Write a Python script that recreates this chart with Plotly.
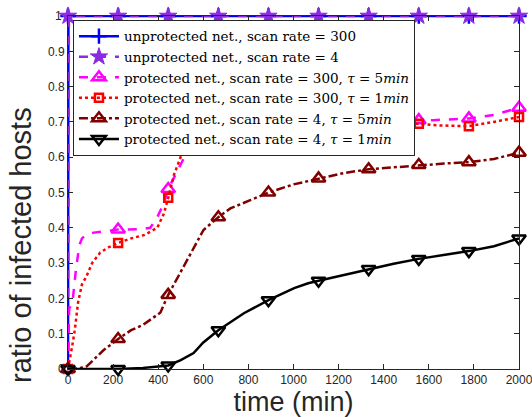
import plotly.graph_objects as go

# marker sample times (min)
t_marks = [0, 222.2, 444.4, 666.7, 888.9, 1111.1, 1333.3, 1555.6, 1777.8, 2000]

# unprotected, scan rate 300
t_u300 = [0, 2, 2000]
y_u300 = [0, 1, 1]
m_u300 = [1, 1, 1, 1, 1, 1, 1, 1, 1, 1]

# unprotected, scan rate 4
t_u4 = [0, 4, 2000]
y_u4 = [0, 1, 1]
m_u4 = [1, 1, 1, 1, 1, 1, 1, 1, 1, 1]

# protected, scan rate 300, tau = 5 min
t_p300_5 = [0, 5, 20, 35, 50, 62, 80, 98, 160, 222.2, 320, 365, 396, 425, 444.4, 485, 521, 557, 600,
            666.7, 778, 888.9, 1111.1, 1333.3, 1555.6, 1620, 1777.8, 1889, 2000]
y_p300_5 = [0, 0.17, 0.19, 0.28, 0.35, 0.37, 0.38, 0.385, 0.39, 0.395, 0.396, 0.40, 0.43, 0.47, 0.51, 0.56, 0.606,
            0.64, 0.66, 0.68, 0.695, 0.70, 0.703, 0.705, 0.705, 0.705, 0.71, 0.72, 0.74]
m_p300_5 = [0, 0.395, 0.51, 0.68, 0.70, 0.703, 0.705, 0.705, 0.71, 0.74]

# protected, scan rate 300, tau = 1 min
t_p300_1 = [0, 10, 20, 30, 45, 62, 80, 107, 143, 180, 222.2, 280, 340, 396, 425, 444.4, 470, 499, 530, 557,
            600, 666.7, 778, 888.9, 1111.1, 1333.3, 1555.6, 1650, 1777.8, 1889, 2000]
y_p300_1 = [0, 0.03, 0.07, 0.11, 0.19, 0.24, 0.26, 0.30, 0.33, 0.345, 0.357, 0.37, 0.38, 0.40, 0.44, 0.485, 0.55,
            0.60, 0.625, 0.64, 0.655, 0.67, 0.685, 0.69, 0.695, 0.695, 0.695, 0.69, 0.688, 0.70, 0.714]
m_p300_1 = [0, 0.357, 0.485, 0.67, 0.69, 0.695, 0.695, 0.695, 0.688, 0.714]

# protected, scan rate 4, tau = 5 min
t_p4_5 = [0, 50, 84, 111, 157, 222.2, 280, 333, 380, 410, 444.4, 512, 557, 601, 666.7, 720, 811, 888.9, 1000,
          1111.1, 1222, 1333.3, 1444, 1555.6, 1667, 1777.8, 1889, 2000]
y_p4_5 = [0, 0.002, 0.008, 0.025, 0.053, 0.085, 0.11, 0.125, 0.145, 0.16, 0.21, 0.29, 0.345, 0.394, 0.43, 0.455,
          0.479, 0.50, 0.523, 0.54, 0.555, 0.566, 0.572, 0.578, 0.582, 0.586, 0.595, 0.613]
m_p4_5 = [0, 0.085, 0.21, 0.43, 0.50, 0.54, 0.566, 0.578, 0.586, 0.613]

# protected, scan rate 4, tau = 1 min
t_p4_1 = [0, 222.2, 333, 444.4, 500, 557, 600, 666.7, 780, 888.9, 1003, 1065, 1111.1, 1222, 1333.3, 1444,
          1555.6, 1667, 1777.8, 1889, 2000]
y_p4_1 = [0, 0, 0.003, 0.01, 0.025, 0.045, 0.075, 0.11, 0.158, 0.195, 0.229, 0.243, 0.25, 0.266, 0.283, 0.298,
          0.312, 0.322, 0.334, 0.348, 0.37]
m_p4_1 = [0, 0, 0.01, 0.11, 0.195, 0.25, 0.283, 0.312, 0.334, 0.37]

x_ticks = [0, 200, 400, 600, 800, 1000, 1200, 1400, 1600, 1800, 2000]
y_ticks = [0, 0.1, 0.2, 0.3, 0.4, 0.5, 0.6, 0.7, 0.8, 0.9, 1]
y_tick_labels = ["0", "0.1", "0.2", "0.3", "0.4", "0.5", "0.6", "0.7", "0.8", "0.9", "1"]

names = [
    "unprotected net., scan rate = 300",
    "unprotected net., scan rate = 4",
    "protected net., scan rate = 300, <i>τ</i> = 5<i>min</i>",
    "protected net., scan rate = 300, <i>τ</i> = 1<i>min</i>",
    "protected net., scan rate = 4, <i>τ</i> = 5<i>min</i>",
    "protected net., scan rate = 4, <i>τ</i> = 1<i>min</i>",
]

series = [
    (t_u300, y_u300, m_u300, "#0000ff", "solid", 2.5, "cross-thin-open", 11, 2.5),
    (t_u4, y_u4, m_u4, "#8a2be2", "dash", 2.5, "star", 13, 1),
    (t_p300_5, y_p300_5, m_p300_5, "#ff00ff", "dash", 2.5, "triangle-up-open", 12, 2.5),
    (t_p300_1, y_p300_1, m_p300_1, "#ff0000", "dot", 2.5, "square-open", 8, 2.5),
    (t_p4_5, y_p4_5, m_p4_5, "#800000", "dashdot", 2.5, "triangle-up-open", 12, 2.5),
    (t_p4_1, y_p4_1, m_p4_1, "#000000", "solid", 2.5, "triangle-down-open", 12, 2.5),
]

fig = go.Figure()
for name, (t, y, m, col, dash, lw, sym, ms, mlw) in zip(names, series):
    mline = dict(color=col, width=mlw)
    fig.add_trace(go.Scatter(x=t, y=y, mode="lines", line=dict(color=col, dash=dash, width=lw),
                             showlegend=False, hoverinfo="skip", cliponaxis=False))
    fig.add_trace(go.Scatter(x=t_marks, y=m, mode="markers",
                             marker=dict(symbol=sym, size=ms, color=col, line=mline),
                             showlegend=False, cliponaxis=False))
    fig.add_trace(go.Scatter(x=[None], y=[None], mode="lines+markers", name=name,
                             line=dict(color=col, dash=dash, width=lw),
                             marker=dict(symbol=sym, size=ms, color=col, line=mline)))

tick_font = dict(family="Liberation Sans, Arial, sans-serif", size=12, color="#262626")
axis_common = dict(
    showline=True, linecolor="#262626", linewidth=1, mirror="ticks",
    ticks="inside", ticklen=5, tickcolor="#262626", tickwidth=1,
    showgrid=False, zeroline=False, ticklabeloverflow="allow", automargin=False,
    tickfont=tick_font,
)

fig.update_xaxes(range=[0, 2000], tickvals=x_ticks,
                 title=dict(text="time (min)", font=dict(family="Liberation Sans, Arial", size=27, color="#262626"),
                            standoff=1),
                 **axis_common)
# tick labels below 1 come from the axis; the top label "1" is added as an annotation
fig.update_yaxes(range=[0, 1.0001], tickvals=y_ticks, ticktext=y_tick_labels[:-1] + [""], **axis_common)

fig.update_layout(
    width=532, height=417,
    margin=dict(l=68, r=13, t=16, b=48),
    paper_bgcolor="white", plot_bgcolor="white",
    legend=dict(x=0.011, y=0.989, xanchor="left", yanchor="top",
                bgcolor="white", bordercolor="#262626", borderwidth=1,
                font=dict(family="DejaVu Serif, serif", size=13.5, color="#000000"),
                itemwidth=40, tracegroupgap=0),
    showlegend=True,
    annotations=[
        dict(text="ratio of infected hosts", textangle=-90, xref="paper", yref="paper",
             x=-0.103, y=0.35, xanchor="center", yanchor="middle", showarrow=False,
             font=dict(family="Liberation Sans, Arial", size=29, color="#262626")),
        dict(text=y_tick_labels[-1], xref="paper", yref="y", x=0, y=y_ticks[-1],
             xanchor="right", yanchor="middle", xshift=-4, showarrow=False, font=tick_font),
    ],
)

fig.write_html("out.html")
